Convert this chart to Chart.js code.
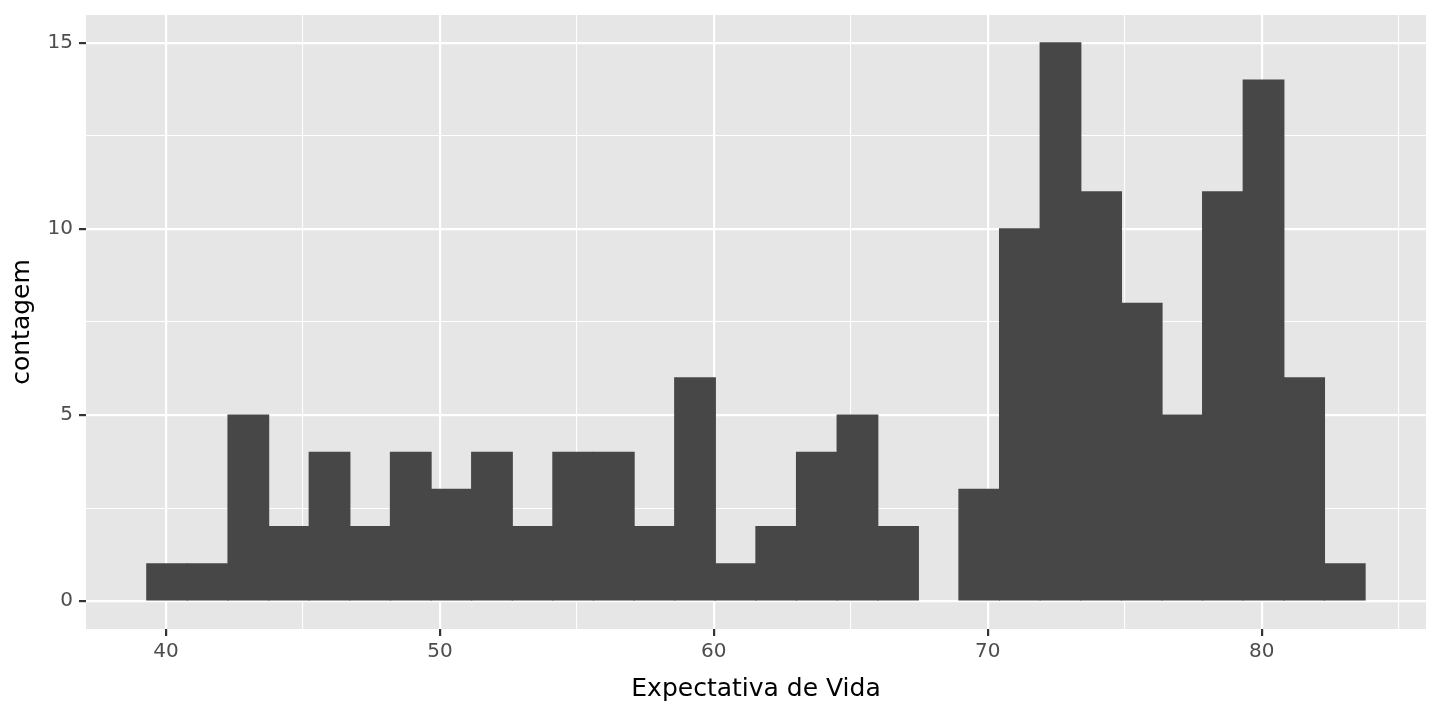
<!DOCTYPE html>
<html>
<head>
<meta charset="utf-8">
<script src="https://cdn.jsdelivr.net/npm/chart.js@4/dist/chart.umd.min.js"></script>
<style>
  body { margin: 0; background: #fff; }
  canvas { display: block; }
</style>
</head>
<body>
<canvas id="histograma" width="1440" height="720"></canvas>
<script>
// centros das classes (largura ~1.4825 anos) e contagens
const centros = [40.041, 41.524, 43.006, 44.489, 45.971, 47.454, 48.936, 50.419, 51.901, 53.384,
  54.866, 56.349, 57.831, 59.314, 60.796, 62.279, 63.761, 65.244, 66.726, 68.209,
  69.691, 71.174, 72.656, 74.139, 75.621, 77.104, 78.586, 80.069, 81.551, 83.034]
const contagens = [1, 1, 5, 2, 4, 2, 4, 3, 4, 2,
  4, 4, 2, 6, 1, 2, 4, 5, 2, 0,
  3, 10, 15, 11, 8, 5, 11, 14, 6, 1]
const ticksX = [40, 50, 60, 70, 80]
const ticksY = [0, 5, 10, 15]

const fonte = 'DejaVu Sans'
const fundoPainel = {
  id: 'fundoPainel',
  beforeDraw(chart) {
    const a = chart.chartArea
    const ctx = chart.ctx
    ctx.save()
    ctx.fillStyle = '#E6E6E6'
    ctx.fillRect(a.left, a.top, a.right - a.left, a.bottom - a.top)
    ctx.restore()
  }
}

// c.tick nem sempre existe (ex.: contexto da borda)
const ehMaior = (lista, c) => c && c.tick ? lista.some(t => Math.abs(t - c.tick.value) < 1e-6) : false

var grafico = document.getElementById('histograma').getContext('2d')
var dados = {
  type: 'bar',
  data: {
    datasets: [{
      label: 'contagem',
      data: centros.map((c, i) => ({ x: c, y: contagens[i] })),
      // classe vazia nao deve deixar risco na base
      backgroundColor: (c) => c.raw && c.raw.y === 0 ? 'rgba(0,0,0,0)' : '#474747',
      borderWidth: 0,
      inflateAmount: 0.6,
      barPercentage: 1,
      categoryPercentage: 1
    }]
  },
  options: {
    responsive: false,
    animation: false,
    devicePixelRatio: 1,
    layout: { padding: { top: 15, right: 14, left: 0, bottom: 0 } },
    plugins: { legend: { display: false }, tooltip: { enabled: false } },
    scales: {
      x: {
        type: 'linear',
        min: 37.08,
        max: 86.0,
        offset: false,
        afterFit: (s) => { s.height = 91; s.paddingLeft = 0; s.paddingRight = 0 },
        border: { display: false },
        grid: {
          offset: false,
          color: '#FFFFFF',
          lineWidth: (c) => ehMaior(ticksX, c) ? 2.2 : 1.1,
          tickLength: 7,
          tickColor: (c) => ehMaior(ticksX, c) ? '#333333' : 'rgba(0,0,0,0)',
          tickWidth: 2.2
        },
        ticks: {
          stepSize: 5,
          includeBounds: false,
          autoSkip: false,
          maxRotation: 0,
          padding: 4,
          color: '#4D4D4D',
          font: { family: fonte, size: 20 },
          callback: (v) => ticksX.includes(v) ? String(v) : ''
        },
        title: {
          display: true,
          text: 'Expectativa de Vida',
          color: '#000000',
          font: { family: fonte, size: 25 },
          padding: { top: 0, bottom: 16 }
        }
      },
      y: {
        min: -0.75,
        max: 15.75,
        afterFit: (s) => { s.width = 86; s.paddingTop = 0; s.paddingBottom = 0 },
        border: { display: false },
        grid: {
          color: '#FFFFFF',
          lineWidth: (c) => ehMaior(ticksY, c) ? 2.2 : 1.1,
          tickLength: 7,
          tickColor: (c) => ehMaior(ticksY, c) ? '#333333' : 'rgba(0,0,0,0)',
          tickWidth: 2.2
        },
        ticks: {
          stepSize: 2.5,
          includeBounds: false,
          autoSkip: false,
          padding: 6,
          color: '#4D4D4D',
          font: { family: fonte, size: 20 },
          callback: (v) => ticksY.includes(v) ? String(v) : ''
        },
        title: {
          display: true,
          text: 'contagem',
          color: '#000000',
          font: { family: fonte, size: 25 },
          padding: { top: 7, bottom: 0 }
        }
      }
    }
  },
  plugins: [fundoPainel]
}
new Chart(grafico, dados)
</script>
</body>
</html>
